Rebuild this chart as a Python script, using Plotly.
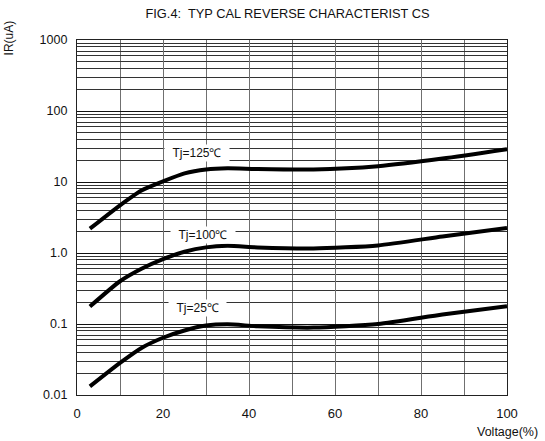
import math
import plotly.graph_objects as go

# ---- data ----
voltage = [3, 10, 15, 20, 25, 30, 35, 42, 55, 70, 85, 100]
ir_125 = [2.2, 4.7, 7.6, 10.2, 13.2, 15.0, 15.6, 15.2, 15.0, 16.7, 21.4, 29.0]
ir_100 = [0.176, 0.40, 0.60, 0.82, 1.04, 1.20, 1.26, 1.20, 1.16, 1.28, 1.71, 2.25]
ir_25 = [0.0132, 0.0283, 0.046, 0.064, 0.081, 0.095, 0.099, 0.093, 0.089, 0.100, 0.136, 0.178]

series_names = ["Tj=125℃", "Tj=100℃", "Tj=25℃"]
label_x = [28, 29.3, 28.1]
label_y = [26, 1.77, 0.167]

x_ticks = [0, 20, 40, 60, 80, 100]
y_tickvals = [0.01, 0.1, 1, 10, 100, 1000]
y_ticktext = ["0.01", "0.1", "1.0", "10", "100", "1000"]

FONT = "Liberation Sans, Arial, sans-serif"

fig = go.Figure()
for name, ys in zip(series_names, [ir_125, ir_100, ir_25]):
    fig.add_trace(go.Scatter(
        x=voltage, y=ys, mode="lines", name=name,
        line=dict(color="black", width=4, shape="spline", smoothing=0.6),
        showlegend=False, hoverinfo="skip",
    ))

for name, lx, ly in zip(series_names, label_x, label_y):
    fig.add_annotation(
        x=lx, y=math.log10(ly), xref="x", yref="y", text="  " + name + "  ",
        showarrow=False, bgcolor="white", borderpad=1,
        font=dict(family=FONT, size=12, color="#111"),
    )

fig.add_annotation(
    text="IR(uA)", textangle=-90, xref="paper", yref="paper",
    x=-0.156, y=1.062, xanchor="center", yanchor="top", showarrow=False,
    font=dict(family=FONT, size=12, color="#111"),
)
fig.add_annotation(
    text="Voltage(%)", xref="paper", yref="paper",
    x=1.077, y=-0.078, xanchor="right", yanchor="top", showarrow=False,
    font=dict(family=FONT, size=12.5, color="#111"),
)

fig.update_layout(
    width=545, height=441,
    margin=dict(l=77, r=38, t=40, b=46),
    paper_bgcolor="white", plot_bgcolor="white",
    title=dict(text="FIG.4:  TYP CAL REVERSE CHARACTERIST CS",
               x=287.5 / 545, xanchor="center", y=1 - 14 / 441, yanchor="middle",
               font=dict(family=FONT, size=12.8, color="#111")),
    font=dict(family=FONT, size=12, color="#111"),
)

fig.update_xaxes(
    range=[0, 100], tickvals=x_ticks, ticks="", ticklabelstandoff=6,
    showgrid=True, gridcolor="#707070", gridwidth=1.3,
    minor=dict(showgrid=True, dtick=10, gridcolor="#707070", gridwidth=1.3),
    showline=True, linecolor="#222", linewidth=1.3, mirror=True, zeroline=False,
    tickfont=dict(family=FONT, size=13, color="#111"),
)
fig.update_yaxes(
    type="log", range=[-2, 3], tickvals=y_tickvals, ticktext=y_ticktext,
    ticks="", ticklabelstandoff=6,
    showgrid=True, gridcolor="#111", gridwidth=1.2,
    minor=dict(showgrid=True, dtick="D1", gridcolor="#333", gridwidth=1),
    showline=True, linecolor="#222", linewidth=1.3, mirror=True, zeroline=False,
    tickfont=dict(family=FONT, size=12.5, color="#111"),
)

fig.write_html("out.html")
